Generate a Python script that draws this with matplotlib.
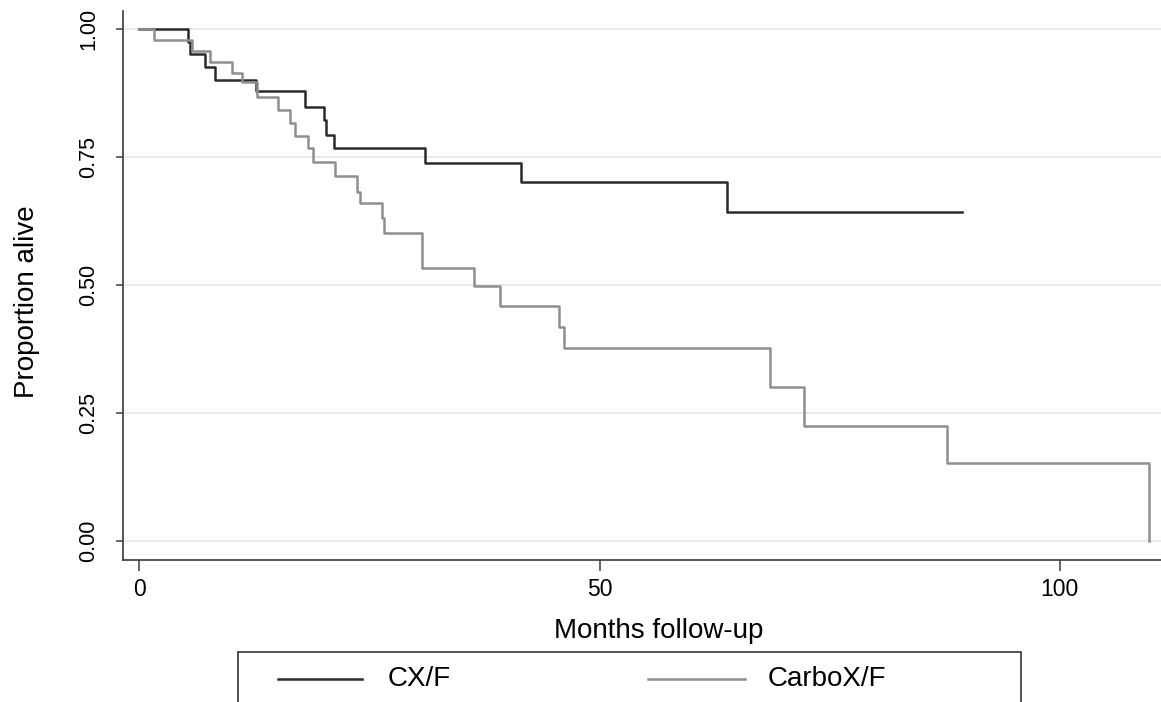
import matplotlib
matplotlib.use("Agg")
import matplotlib.pyplot as plt
from matplotlib.lines import Line2D
from matplotlib.patches import Rectangle

plt.rcParams['font.family'] = ['Liberation Sans', 'DejaVu Sans']

# ---- data ----
series_names = ["CX/F", "CarboX/F"]

cx_time = [0, 5.3, 5.5, 7.1, 8.2, 12.7, 18.0, 20.0, 20.3, 21.1, 31.0, 41.5, 63.8, 89.4]
cx_surv = [1.0, 0.974, 0.952, 0.926, 0.900, 0.878, 0.848, 0.822, 0.793, 0.767, 0.738, 0.702, 0.643, 0.643]

carbo_time = [0, 1.6, 5.7, 7.7, 10.0, 11.1, 12.8, 15.1, 16.4, 16.9, 18.3, 18.9, 21.3, 23.6, 24.0,
              26.3, 26.6, 30.7, 36.4, 39.2, 45.6, 46.1, 68.5, 72.2, 87.7, 109.7]
carbo_surv = [1.0, 0.978, 0.957, 0.935, 0.913, 0.897, 0.868, 0.842, 0.816, 0.790, 0.767, 0.740, 0.712, 0.682, 0.660,
              0.630, 0.601, 0.533, 0.499, 0.459, 0.417, 0.376, 0.301, 0.225, 0.152, 0.0]

x_ticks = [0, 50, 100]
y_ticks = [0.0, 0.25, 0.5, 0.75, 1.0]
y_ticklabels = ["0.00", "0.25", "0.50", "0.75", "1.00"]

# ---- figure ----
W, H = 1161, 702
fig = plt.figure(figsize=(W / 100, H / 100), dpi=100)
ax = fig.add_axes([123 / W, (H - 560) / H, (W - 123) / W, (560 - 11) / H])

ax.set_xlim(-1.79, 111.0)
ax.set_ylim(-0.037, 1.035)

for y in y_ticks:
    ax.axhline(y, color='#e4e4e4', lw=1.1, zorder=0)

ax.plot(cx_time, cx_surv, drawstyle='steps-post', color='#2b2b2b', lw=1.8, zorder=3)
ax.plot(carbo_time, carbo_surv, drawstyle='steps-post', color='#8e8e8e', lw=1.8, zorder=4)

for s in ['top', 'right']:
    ax.spines[s].set_visible(False)
for s in ['left', 'bottom']:
    ax.spines[s].set_color('#3a3a3a')
    ax.spines[s].set_linewidth(1.2)

ax.set_xticks(x_ticks)
ax.set_xticklabels([str(t) for t in x_ticks], fontsize=16.5)
ax.set_yticks(y_ticks)
ax.set_yticklabels(y_ticklabels, fontsize=15.5, rotation=90, va='center')
ax.tick_params(axis='x', length=8, width=1.1, color='#3a3a3a', pad=5)
ax.tick_params(axis='y', length=5, width=1.1, color='#3a3a3a', pad=12)

ax.set_xlabel('Months follow-up', fontsize=20)
ax.xaxis.set_label_coords(0.516, -0.142)
ax.xaxis.label.set_va('baseline')

ax.set_ylabel('Proportion alive', fontsize=20)
ax.yaxis.set_label_coords((27 - 123) / (W - 123), (560 - 302) / 549)
ax.yaxis.label.set_va('center')

# ---- legend box (clipped at bottom like the reference) ----
box = Rectangle((238 / W, -0.05), (1021 - 238) / W, (H - 652) / H + 0.05,
                transform=fig.transFigure, fill=False, edgecolor='#333333', lw=1.2)
fig.patches.append(box)
ly = (H - 679) / H
fig.lines.append(Line2D([278 / W, 362 / W], [ly, ly], transform=fig.transFigure,
                        color='#2b2b2b', lw=1.8))
fig.text(388 / W, ly, series_names[0], fontsize=20, va='center', ha='left')
fig.lines.append(Line2D([648 / W, 745 / W], [ly, ly], transform=fig.transFigure,
                        color='#8e8e8e', lw=1.8))
fig.text(768 / W, ly, series_names[1], fontsize=20, va='center', ha='left')

fig.savefig('out.png', dpi=100)
